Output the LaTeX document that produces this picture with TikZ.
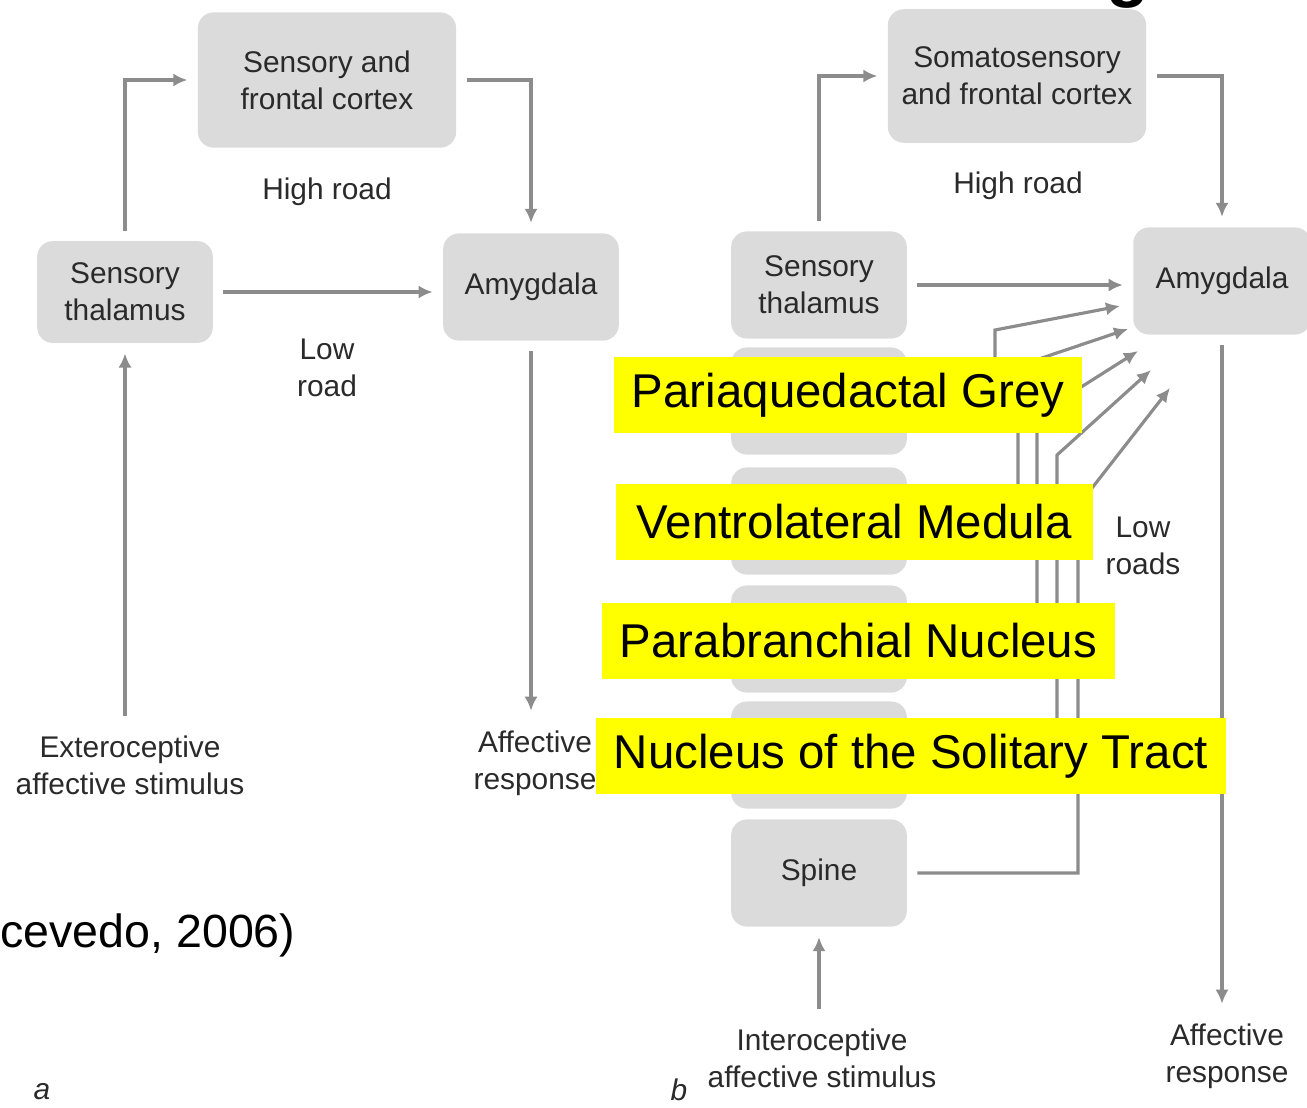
\documentclass[tikz,border=0pt]{standalone}
\usepackage{fontspec}
\setmainfont{Liberation Sans}
\usetikzlibrary{arrows.meta}
\definecolor{boxgray}{HTML}{DBDBDB}
\definecolor{roadgray}{HTML}{8C8C8C}
\definecolor{inkgray}{HTML}{2A2A2A}
\definecolor{marker}{HTML}{FFFF00}
\tikzstyle{region}=[fill=boxgray, rounded corners=9pt, outer sep=6pt, text=inkgray, align=center, minimum width=100pt, minimum height=61pt, font=\fontsize{17}{21}\selectfont]
\tikzstyle{note}=[text=inkgray, align=center, outer sep=8pt, font=\fontsize{17}{21}\selectfont]
\tikzstyle{road}=[draw=roadgray, line width=1.8pt, -{Latex[length=8pt,width=7.5pt]}]
\tikzstyle{marked}=[fill=marker, anchor=west, inner xsep=10pt, minimum height=43pt, font=\fontsize{27}{30}\selectfont]
\newcommand{\region}{\node[region]}

\begin{document}
\begin{tikzpicture}[x=0.02cm, y=-0.02cm]
\useasboundingbox (0,0) rectangle (1307,1107);
% a
\region[minimum width=147pt, minimum height=77pt] (ctxA) at (327,80) {Sensory and\\frontal cortex};
\region[minimum height=58pt] (thalA) at (125,292) {Sensory\\thalamus};
\region (amyA) at (531,287) {Amygdala};
\node[note] (stimA) at (130,765) {Exteroceptive\\affective stimulus};
\node[note] (respA) at (535,763) {Affective\\response};
\node[note] at (327,192) {High road};
\node[note] at (327,368) {Low\\road};
\draw[road] (thalA.north) |- (ctxA.west);
\draw[road] (ctxA.east) -| (amyA.north);
\draw[road] (thalA.east) -- (thalA.east -| amyA.west);
\draw[road] (thalA.south |- stimA.north) -- (thalA.south);
\draw[road] (amyA.south) -- (amyA.south |- respA.north);
% b
\region[minimum width=147pt, minimum height=76pt] (ctxB) at (1017,76) {Somatosensory\\and frontal cortex};
\region (thalB) at (819,285) {Sensory\\thalamus};
\region (pag) at (819,401) {};
\region (vlm) at (819,521) {};
\region (pbn) at (819,639) {};
\region (nts) at (819,755) {};
\region (spine) at (819,873) {Spine};
\region[minimum width=101pt] (amyB) at (1222,281) {Amygdala};
\node[note] (stimB) at (822,1058) {Interoceptive\\affective stimulus};
\node[note] (respB) at (1227,1056) {Affective\\response};
\node[note] at (1018,186) {High road};
\node[note] at (1143,546) {Low\\roads};
\draw[road] (thalB.north) |- (ctxB.west);
\draw[road] (ctxB.east) -| (amyB.north);
\draw[road] (thalB.east) -- (thalB.east -| amyB.west);
\draw[road] (spine.south |- stimB.north) -- (spine.south);
\draw[road] (amyB.south) -- (amyB.south |- respB.north);
\coordinate (t1) at (1120,306);
\coordinate (t2) at (1128,329);
\coordinate (t3) at (1138,351);
\coordinate (t4) at (1151,370);
\coordinate (t5) at (1170,388);
\draw[road] (pag.east) -| (995,330) -- (t1);
\draw[road] (vlm.east) -| (1018,366) -- (t2);
\draw[road] (pbn.east) -| (1037,415) -- (t3);
\draw[road] (nts.east) -| (1057,455) -- (t4);
\draw[road] (spine.east) -| (1078,506) -- (t5);
% highlighted names
\node[marked, minimum width=264pt] (lpag) at (614,395) {Pariaquedactal Grey};
\node[marked, minimum width=271pt] (lvlm) at (616,522) {Ventrolateral Medula};
\node[marked, minimum width=287pt] (lpbn) at (602,641) {Parabranchial Nucleus};
\node[marked, minimum width=358pt] (lnts) at (596,756) {Nucleus of the Solitary Tract};
\node[anchor=west, inner sep=0pt, font=\fontsize{26.5}{30}\selectfont] (cite) at (0,935) {cevedo, 2006)};
\node[text=inkgray, inner sep=0pt, font=\itshape\fontsize{17}{21}\selectfont] (pa) at (42,1092) {a};
\node[text=inkgray, inner sep=0pt, font=\itshape\fontsize{17}{21}\selectfont] (pb) at (679,1090) {b};
\node[anchor=base, inner sep=0pt, font=\bfseries\fontsize{40}{40}\selectfont] (tg) at (1128,-7) {g};
\end{tikzpicture}
\end{document}
